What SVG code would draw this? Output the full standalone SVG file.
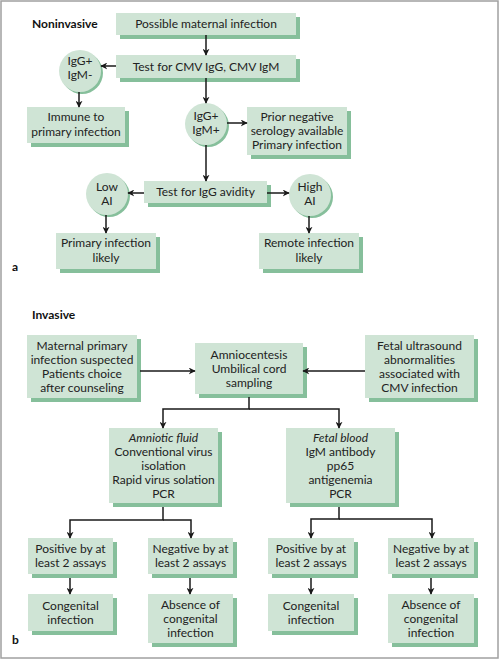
<svg xmlns="http://www.w3.org/2000/svg" width="500" height="660" viewBox="0 0 500 660">
<defs>
<marker id="ah" viewBox="0 0 10 10" refX="9" refY="5" markerWidth="7" markerHeight="7" markerUnits="userSpaceOnUse" orient="auto">
<path d="M0,0 L10,5 L0,10 L3,5 Z" fill="#1a1a1a"/>
</marker>
</defs>
<style>
.b{fill:#cfe4d5}
.s{fill:#86bf9b}
.t{font-family:Lato,"Open Sans",sans-serif;font-size:12px;fill:#222;text-anchor:middle}
.i{font-style:italic}
.h{font-family:Lato,"Open Sans",sans-serif;font-size:12px;font-weight:bold;fill:#111}
.c line,.c path{stroke:#1a1a1a;stroke-width:1.5;fill:none}
</style>
<rect x="1" y="1" width="497" height="657" fill="#fff" stroke="#a0a0a0" stroke-width="1.5"/>
<text class="h" x="32" y="28">Noninvasive</text>
<text class="h" x="32" y="319">Invasive</text>
<text class="h" x="12" y="271">a</text>
<text class="h" x="12" y="644">b</text>

<g id="possible"><rect class="s" x="120" y="17" width="180" height="22"/><rect class="b" x="116" y="13" width="180" height="22"/><text class="t" x="206" y="28">Possible maternal infection</text></g>
<g id="testcmv"><rect class="s" x="120" y="59" width="180" height="23"/><rect class="b" x="116" y="55" width="180" height="23"/><text class="t" x="206" y="71">Test for CMV IgG, CMV IgM</text></g>
<g id="c1"><circle class="s" cx="82" cy="73" r="21"/><circle class="b" cx="80" cy="71" r="21"/><text class="t" x="80" y="65">IgG+</text><text class="t" x="80" y="79">IgM-</text></g>
<g id="immune"><rect class="s" x="31" y="111" width="98" height="36"/><rect class="b" x="27" y="107" width="98" height="36"/><text class="t" x="76" y="121">Immune to</text><text class="t" x="76" y="136">primary infection</text></g>
<g id="c2"><circle class="s" cx="208" cy="126" r="21"/><circle class="b" cx="206" cy="124" r="21"/><text class="t" x="206" y="120">IgG+</text><text class="t" x="206" y="134">IgM+</text></g>
<g id="prior"><rect class="s" x="251" y="111" width="100" height="48"/><rect class="b" x="247" y="107" width="100" height="48"/><text class="t" x="297" y="121">Prior negative</text><text class="t" x="297" y="135">serology available</text><text class="t" x="297" y="149">Primary infection</text></g>
<g id="avidity"><rect class="s" x="148" y="185" width="123" height="22"/><rect class="b" x="144" y="181" width="123" height="22"/><text class="t" x="205.5" y="196">Test for IgG avidity</text></g>
<g id="low"><circle class="s" cx="109" cy="196" r="21"/><circle class="b" cx="107" cy="194" r="21"/><text class="t" x="107" y="191">Low</text><text class="t" x="107" y="205">AI</text></g>
<g id="high"><circle class="s" cx="312" cy="197" r="21"/><circle class="b" cx="310" cy="195" r="21"/><text class="t" x="310" y="191">High</text><text class="t" x="310" y="205">AI</text></g>
<g id="primlikely"><rect class="s" x="60" y="237" width="100" height="36"/><rect class="b" x="56" y="233" width="100" height="36"/><text class="t" x="106" y="247">Primary infection</text><text class="t" x="106" y="262">likely</text></g>
<g id="remote"><rect class="s" x="263" y="237" width="100" height="36"/><rect class="b" x="259" y="233" width="100" height="36"/><text class="t" x="309" y="247">Remote infection</text><text class="t" x="309" y="262">likely</text></g>

<g id="maternal"><rect class="s" x="31" y="339" width="110" height="63"/><rect class="b" x="27" y="335" width="110" height="63"/><text class="t" x="82" y="349.5">Maternal primary</text><text class="t" x="82" y="363.5">infection suspected</text><text class="t" x="82" y="377.5">Patients choice</text><text class="t" x="82" y="391.5">after counseling</text></g>
<g id="amnio"><rect class="s" x="199" y="347" width="108" height="51"/><rect class="b" x="195" y="343" width="108" height="51"/><text class="t" x="249" y="358.5">Amniocentesis</text><text class="t" x="249" y="372.5">Umbilical cord</text><text class="t" x="249" y="386.5">sampling</text></g>
<g id="fetalus"><rect class="s" x="369" y="339" width="109" height="63"/><rect class="b" x="365" y="335" width="109" height="63"/><text class="t" x="419.5" y="349.5">Fetal ultrasound</text><text class="t" x="419.5" y="363.5">abnormalities</text><text class="t" x="419.5" y="377.5">associated with</text><text class="t" x="419.5" y="391.5">CMV infection</text></g>
<g id="amfluid"><rect class="s" x="113" y="432" width="109" height="75"/><rect class="b" x="109" y="428" width="109" height="75"/><text class="t i" x="163.5" y="441.5">Amniotic fluid</text><text class="t" x="163.5" y="455.5">Conventional virus</text><text class="t" x="163.5" y="469.5">isolation</text><text class="t" x="163.5" y="483.5">Rapid virus solation</text><text class="t" x="163.5" y="497.5">PCR</text></g>
<g id="fetblood"><rect class="s" x="290" y="432" width="109" height="75"/><rect class="b" x="286" y="428" width="109" height="75"/><text class="t i" x="340.5" y="441.5">Fetal blood</text><text class="t" x="340.5" y="455.5">IgM antibody</text><text class="t" x="340.5" y="469.5">pp65</text><text class="t" x="340.5" y="483.5">antigenemia</text><text class="t" x="340.5" y="497.5">PCR</text></g>

<g id="posL"><rect class="s" x="32" y="542" width="85" height="36"/><rect class="b" x="28" y="538" width="85" height="36"/><text class="t" x="70.5" y="553">Positive by at</text><text class="t" x="70.5" y="567">least 2 assays</text></g>
<g id="negL"><rect class="s" x="152" y="542" width="85" height="36"/><rect class="b" x="148" y="538" width="85" height="36"/><text class="t" x="190.5" y="553">Negative by at</text><text class="t" x="190.5" y="567">least 2 assays</text></g>
<g id="posR"><rect class="s" x="272" y="542" width="86" height="36"/><rect class="b" x="268" y="538" width="86" height="36"/><text class="t" x="311" y="553">Positive by at</text><text class="t" x="311" y="567">least 2 assays</text></g>
<g id="negR"><rect class="s" x="392" y="542" width="86" height="36"/><rect class="b" x="388" y="538" width="86" height="36"/><text class="t" x="431" y="553">Negative by at</text><text class="t" x="431" y="567">least 2 assays</text></g>
<g id="congL"><rect class="s" x="32" y="598" width="85" height="37"/><rect class="b" x="28" y="594" width="85" height="37"/><text class="t" x="70.5" y="609.5">Congenital</text><text class="t" x="70.5" y="623.5">infection</text></g>
<g id="absL"><rect class="s" x="152" y="598" width="85" height="49"/><rect class="b" x="148" y="594" width="85" height="49"/><text class="t" x="190.5" y="608.5">Absence of</text><text class="t" x="190.5" y="622.5">congenital</text><text class="t" x="190.5" y="636.5">infection</text></g>
<g id="congR"><rect class="s" x="272" y="598" width="86" height="37"/><rect class="b" x="268" y="594" width="86" height="37"/><text class="t" x="311" y="609.5">Congenital</text><text class="t" x="311" y="623.5">infection</text></g>
<g id="absR"><rect class="s" x="392" y="598" width="86" height="49"/><rect class="b" x="388" y="594" width="86" height="49"/><text class="t" x="431" y="608.5">Absence of</text><text class="t" x="431" y="622.5">congenital</text><text class="t" x="431" y="636.5">infection</text></g>

<g class="c" id="connectors">
<line x1="206" y1="35" x2="206" y2="55" marker-end="url(#ah)"/>
<line x1="116" y1="66" x2="101" y2="66" marker-end="url(#ah)"/>
<line x1="79" y1="92" x2="79" y2="107" marker-end="url(#ah)"/>
<line x1="206" y1="78" x2="206" y2="103" marker-end="url(#ah)"/>
<line x1="227" y1="123" x2="247" y2="123" marker-end="url(#ah)"/>
<line x1="206" y1="145" x2="206" y2="181" marker-end="url(#ah)"/>
<line x1="144" y1="193" x2="128" y2="193" marker-end="url(#ah)"/>
<line x1="267" y1="193" x2="289" y2="193" marker-end="url(#ah)"/>
<line x1="106" y1="215" x2="106" y2="233" marker-end="url(#ah)"/>
<line x1="309" y1="216" x2="309" y2="233" marker-end="url(#ah)"/>
<line x1="140" y1="371" x2="195" y2="371" marker-end="url(#ah)"/>
<line x1="365" y1="371" x2="303" y2="371" marker-end="url(#ah)"/>
<path d="M249,397 V409 H163 V428" marker-end="url(#ah)"/>
<path d="M249,409 H339 V428" marker-end="url(#ah)"/>
<path d="M163,507 V520 H70 V538" marker-end="url(#ah)"/>
<path d="M163,520 H191 V538" marker-end="url(#ah)"/>
<path d="M339,507 V519 H311 V538" marker-end="url(#ah)"/>
<path d="M339,519 H432 V538" marker-end="url(#ah)"/>
<line x1="70" y1="578" x2="70" y2="594" marker-end="url(#ah)"/>
<line x1="190" y1="578" x2="190" y2="594" marker-end="url(#ah)"/>
<line x1="311" y1="578" x2="311" y2="594" marker-end="url(#ah)"/>
<line x1="431" y1="578" x2="431" y2="594" marker-end="url(#ah)"/>
</g>
</svg>
